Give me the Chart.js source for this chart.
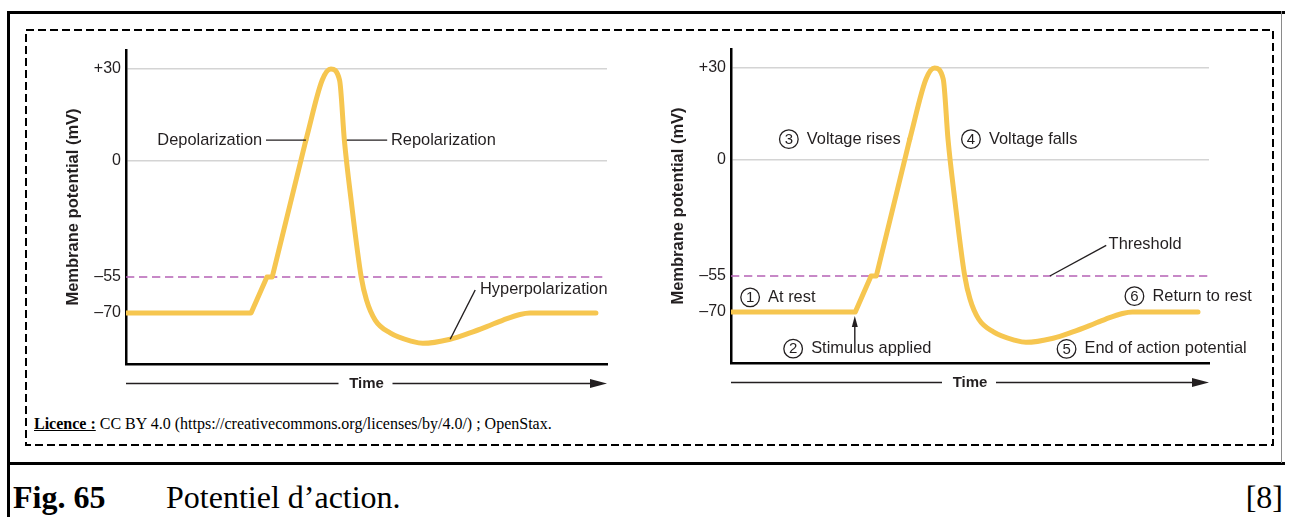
<!DOCTYPE html>
<html>
<head>
<meta charset="utf-8">
<script src="https://cdn.jsdelivr.net/npm/chart.js@4.4.1/dist/chart.umd.min.js"></script>
<style>
    body { margin: 0; background: #fff; width: 1292px; height: 517px; position: relative; overflow: hidden; }
    .abs { position: absolute; }
    canvas { position: absolute; }
    .serif { font-family: 'Liberation Serif', 'Times New Roman', serif; color: #000; white-space: nowrap; }
</style>
</head>
<body>

<div class="abs" style="left:7px;top:11px;width:1278px;height:3px;background:#000"></div>
<div class="abs" style="left:7px;top:11px;width:3px;height:506px;background:#000"></div>
<div class="abs" style="left:7px;top:462px;width:1278px;height:3px;background:#000"></div>
<div class="abs" style="left:1281px;top:11px;width:1px;height:452px;background:#8a8a8a"></div>

<svg class="abs" style="left:0;top:0" width="1292" height="517">
    <rect x="26" y="30" width="1247" height="415" fill="none" stroke="#000" stroke-width="2" stroke-dasharray="8 4"/>
</svg>

<canvas id="leftChart" width="600" height="372" style="left:30px;top:30px"></canvas>
<canvas id="rightChart" width="636" height="372" style="left:635px;top:29px"></canvas>

<div class="abs serif" style="left:34px;top:414px;font-size:16px;line-height:20px">
    <b><u>Licence :</u></b> CC BY 4.0 (https://creativecommons.org/licenses/by/4.0/) ; OpenStax.
</div>

<div class="abs serif" style="left:13px;top:481px;font-size:32px;line-height:32px"><b>Fig. 65</b></div>
<div class="abs serif" style="left:166px;top:481px;font-size:32px;line-height:32px">Potentiel d’action.</div>
<div class="abs serif" style="right:9px;top:481px;font-size:32px;line-height:32px">[8]</div>

<script>
// membrane potential ticks (mV); only +30 and 0 get a grey grid line
const yTicks = [-70, -55, 0, 30];
const gridTicks = [0, 30];
const thresholdMv = -55;

// time is in arbitrary units, 0 to 100 across the axis
const thresholdTime = [0, 100];

// straight part: rest, stimulus, threshold step, upstroke
const riseTime = [0, 26.0, 29.3, 30.4, 37.4];
const riseMv = [-70, -70, -55, -55, 6.8];

// curved part: peak, repolarization, hyperpolarization, back to rest
const fallTime = [37.4, 40.8, 42.6, 44.4, 45.4, 46.8, 48.9, 50.0, 51.8, 54.9, 59.7, 61.7, 67.4, 71.5, 75.0, 78.4, 81.9, 84.0, 97.7];
const fallMv = [6.8, 26.4, 30, 26.4, 6.8, -18.5, -55, -64.6, -72.9, -78.2, -81.8, -82.5, -80.8, -78.2, -75.6, -72.9, -70.6, -70, -70];

const ink = '#231f20';
const traceColor = '#f6c650';
const thresholdColor = '#b562b5';
const sans = "'Liberation Sans', Arial, Helvetica, sans-serif";
const noteFont = '16.4px ' + sans;

// annotations, anchored in data units (time, mV)
const leftNotes = [
    { kind: 'label', t: 28.3, v: 6.8, text: 'Depolarization', align: 'right' },
    { kind: 'leader', from: [29.1, 6.8], to: [37.4, 6.8] },
    { kind: 'label', t: 55.1, v: 6.8, text: 'Repolarization', align: 'left' },
    { kind: 'leader', from: [45.9, 6.8], to: [54.3, 6.8] },
    { kind: 'label', t: 73.6, v: -60.4, text: 'Hyperpolarization', align: 'left' },
    { kind: 'leader', from: [67.4, -80.8], to: [72.6, -60.4] }
];

const rightNotes = [
    { kind: 'circled', t: 12.1, v: 6.8, n: '3', text: 'Voltage rises' },
    { kind: 'circled', t: 50.2, v: 6.8, n: '4', text: 'Voltage falls' },
    { kind: 'label', t: 79.0, v: -40, text: 'Threshold', align: 'left' },
    { kind: 'leader', from: [66.7, -55], to: [78.5, -40.5] },
    { kind: 'circled', t: 4.0, v: -63.9, n: '1', text: 'At rest' },
    { kind: 'circled', t: 13.0, v: -85.1, n: '2', text: 'Stimulus applied' },
    { kind: 'arrow', from: [25.9, -81.9], to: [25.9, -71.6] },
    { kind: 'circled', t: 70.2, v: -85.2, n: '5', text: 'End of action potential' },
    { kind: 'circled', t: 84.4, v: -63.4, n: '6', text: 'Return to rest' }
];


// the y axis of the figure is schematic: each mV band has its own height
class SchematicScale extends Chart.LinearScale {
    toDecimal(value) {
        const { values, spans } = this.options.knots;
        const total = spans.reduce((a, b) => a + b, 0);
        let acc = 0;
        for (let i = 0; i < spans.length; i++) {
            const lo = values[i], hi = values[i + 1];
            if (value <= hi || i === spans.length - 1) {
                return (acc + (value - lo) / (hi - lo) * spans[i]) / total;
            }
            acc += spans[i];
        }
        return 1;
    }
    getPixelForValue(value) {
        if (value === null || value === undefined) return NaN;
        return this.getPixelForDecimal(this.toDecimal(value));
    }
    getValueForPixel(pixel) {
        const { values, spans } = this.options.knots;
        const total = spans.reduce((a, b) => a + b, 0);
        let d = this.getDecimalForPixel(pixel) * total;
        for (let i = 0; i < spans.length; i++) {
            if (d <= spans[i] || i === spans.length - 1) {
                return values[i] + d / spans[i] * (values[i + 1] - values[i]);
            }
            d -= spans[i];
        }
        return values[values.length - 1];
    }
}
SchematicScale.id = 'schematic';
SchematicScale.defaults = {};
Chart.register(SchematicScale);


function toPoints(times, values) {
    return times.map((t, i) => ({ x: t, y: values[i] }));
}


const notesPlugin = {
    id: 'notes',
    afterDraw(chart, args, opts) {
        const { ctx, chartArea } = chart;
        const xs = chart.scales.x, ys = chart.scales.y;
        const P = (t, v) => [xs.getPixelForValue(t), ys.getPixelForValue(v)];

        ctx.save();
        ctx.fillStyle = ink;
        ctx.strokeStyle = ink;
        ctx.textBaseline = 'middle';

        // Time arrow under the axis
        const ty = chartArea.bottom + 19.5;
        const mid = (chartArea.left + chartArea.right) / 2;
        ctx.font = 'bold 15px ' + sans;
        ctx.textAlign = 'center';
        ctx.fillText('Time', mid, ty);
        ctx.lineWidth = 1.6;
        ctx.beginPath();
        ctx.moveTo(chartArea.left, ty);
        ctx.lineTo(mid - 28, ty);
        ctx.moveTo(mid + 26, ty);
        ctx.lineTo(chartArea.right - 14, ty);
        ctx.stroke();
        ctx.beginPath();
        ctx.moveTo(chartArea.right, ty);
        ctx.lineTo(chartArea.right - 17, ty - 4.5);
        ctx.lineTo(chartArea.right - 17, ty + 4.5);
        ctx.closePath();
        ctx.fill();

        ctx.font = noteFont;
        opts.items.forEach(n => {
            if (n.kind === 'label') {
                const [px, py] = P(n.t, n.v);
                ctx.textAlign = n.align;
                ctx.fillText(n.text, px, py);
            } else if (n.kind === 'leader') {
                const [x1, y1] = P(...n.from);
                const [x2, y2] = P(...n.to);
                ctx.lineWidth = 1.4;
                ctx.beginPath();
                ctx.moveTo(x1, y1);
                ctx.lineTo(x2, y2);
                ctx.stroke();
            } else if (n.kind === 'circled') {
                const [cx, cy] = P(n.t, n.v);
                ctx.lineWidth = 1.3;
                ctx.beginPath();
                ctx.arc(cx, cy, 9.3, 0, Math.PI * 2);
                ctx.stroke();
                ctx.font = '15px ' + sans;
                ctx.textAlign = 'center';
                ctx.fillText(n.n, cx, cy + 0.5);
                ctx.font = noteFont;
                ctx.textAlign = 'left';
                ctx.fillText(n.text, cx + 18, cy);
            } else if (n.kind === 'arrow') {
                const [x1, y1] = P(...n.from);
                const [x2, y2] = P(...n.to);
                ctx.lineWidth = 1.4;
                ctx.beginPath();
                ctx.moveTo(x1, y1);
                ctx.lineTo(x2, y2 + 9);
                ctx.stroke();
                ctx.beginPath();
                ctx.moveTo(x2, y2);
                ctx.lineTo(x2 - 3, y2 + 11);
                ctx.lineTo(x2 + 3, y2 + 11);
                ctx.closePath();
                ctx.fill();
            }
        });
        ctx.restore();
    }
};


function makeChart(canvasId, notes, padRight) {
    const canvas = document.getElementById(canvasId);
    return new Chart(canvas, {
        type: 'line',
        data: {
            datasets: [
                {
                    label: 'Threshold',
                    data: toPoints(thresholdTime, thresholdTime.map(() => thresholdMv)),
                    borderColor: thresholdColor,
                    borderWidth: 1.6,
                    borderDash: [8.3, 4.7],
                    pointRadius: 0,
                    order: 3
                },
                {
                    label: 'Rise',
                    data: toPoints(riseTime, riseMv),
                    borderColor: traceColor,
                    borderWidth: 5,
                    borderCapStyle: 'round',
                    borderJoinStyle: 'round',
                    tension: 0,
                    pointRadius: 0,
                    order: 1
                },
                {
                    label: 'Fall',
                    data: toPoints(fallTime, fallMv),
                    borderColor: traceColor,
                    borderWidth: 5,
                    borderCapStyle: 'round',
                    borderJoinStyle: 'round',
                    cubicInterpolationMode: 'monotone',
                    pointRadius: 0,
                    order: 1
                }
            ]
        },
        options: {
            responsive: false,
            animation: false,
            devicePixelRatio: 1,
            layout: {
                padding: { top: 20, right: padRight, bottom: 38, left: 0 }
            },
            plugins: {
                legend: { display: false },
                tooltip: { enabled: false },
                notes: { items: notes }
            },
            scales: {
                x: {
                    type: 'linear',
                    min: 0,
                    max: 100,
                    ticks: { display: false },
                    grid: { display: false, drawTicks: false },
                    border: { display: true, color: '#000', width: 2.5 },
                    afterFit: s => { s.height = 0; }
                },
                y: {
                    type: 'schematic',
                    position: 'left',
                    min: -91,
                    max: 36,
                    knots: { values: [-91, -70, -55, 0, 30, 36], spans: [51, 36, 116, 92, 19] },
                    afterBuildTicks: s => { s.ticks = yTicks.map(v => ({ value: v })); },
                    afterFit: s => { s.width = 96; },
                    ticks: {
                        padding: 5,
                        color: ink,
                        font: { family: sans, size: 16 },
                        callback: v => v > 0 ? '+' + v : (v < 0 ? '\u2013' + Math.abs(v) : '0')
                    },
                    grid: {
                        drawTicks: false,
                        lineWidth: 1.6,
                        color: c => (c.tick && gridTicks.includes(c.tick.value)) ? '#d4d4d4' : 'rgba(0,0,0,0)'
                    },
                    border: { display: true, color: '#000', width: 2.5 },
                    title: {
                        display: true,
                        text: 'Membrane potential (mV)',
                        color: ink,
                        font: { family: sans, size: 16.5, weight: 'bold' },
                        padding: { top: 33.1, bottom: 0 }
                    }
                }
            }
        },
        plugins: [notesPlugin]
    });
}

makeChart('leftChart', leftNotes, 23);
makeChart('rightChart', rightNotes, 62);
</script>
</body>
</html>
